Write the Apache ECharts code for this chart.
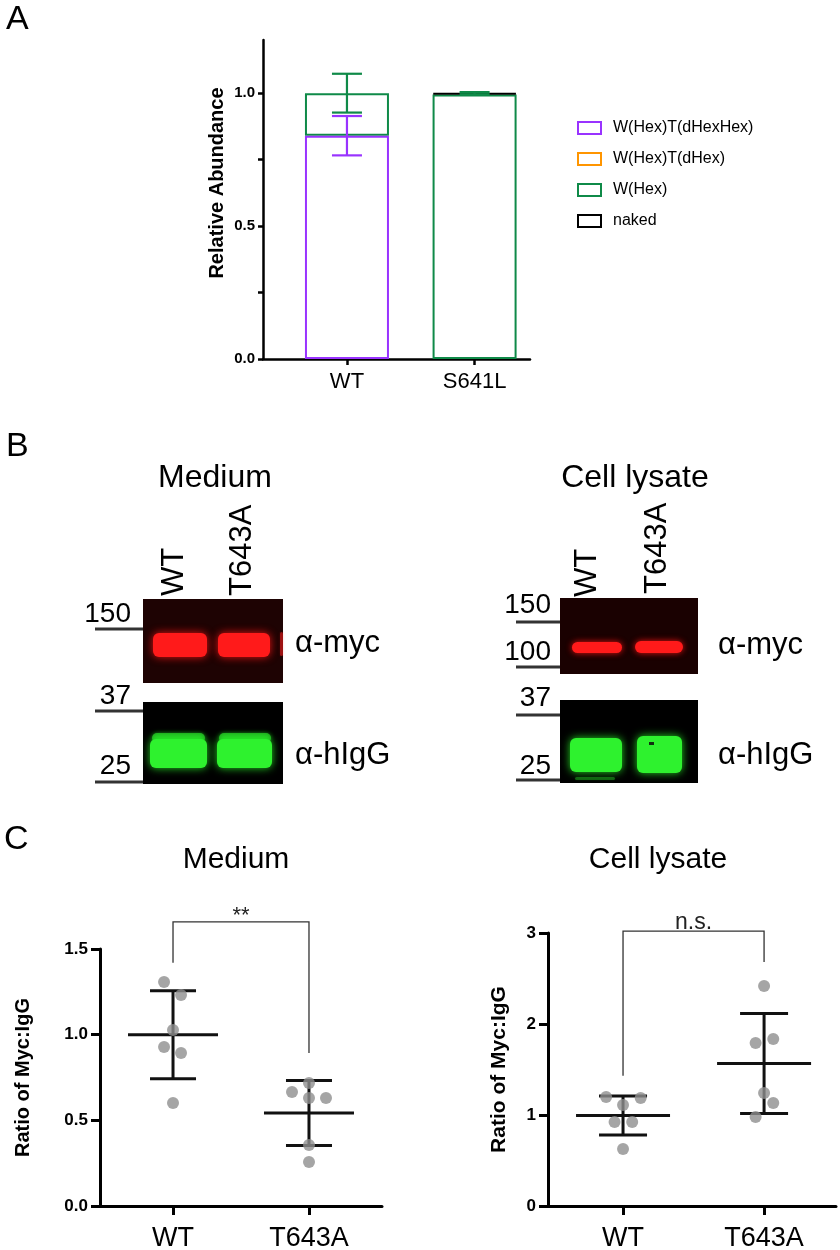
<!DOCTYPE html>
<html>
<head>
<meta charset="utf-8">
<title>Glycoform abundance and myc:IgG ratio</title>
<script src="https://cdn.jsdelivr.net/npm/echarts@6.0.0/dist/echarts.min.js"></script>
<style>
  html, body { margin: 0; padding: 0; background: #fff; }
  #fig { width: 840px; height: 1250px; }
</style>
</head>
<body>
<div id="fig"></div>
<script>
const FONT = "'Liberation Sans', Arial, Helvetica, sans-serif";

// panel A - relative abundance per glycoform (stacked)
const abCats = ['WT', 'S641L'];
const abX = [1, 2.52];
const abNames = ['W(Hex)T(dHexHex)', 'W(Hex)T(dHex)', 'W(Hex)', 'naked'];
const abColors = ['#9933ff', '#ff9500', '#0f8a48', '#000000'];
const abHexHex = [0.84, null];
const abHexDHex = [null, null];
const abHex = [0.16, 0.995];
const abNaked = [null, 0.005];
// [x, segment top, sd]
const abErrHexHex = [[1, 0.84, 0.074]];
const abErrHex = [[1, 1.0, 0.073], [2.52, 1.0, 0.004]];
const abTicks = [0, 0.25, 0.5, 0.75, 1.0];
const abLabels = [0, 0.5, 1.0];

// panel C - ratio of myc:IgG, points are [jittered x, value]
const cCats = ['WT', 'T643A'];
const medWT = [[0.934, 1.307], [1.059, 1.232], [1, 1.027], [0.934, 0.928], [1.059, 0.893], [1, 0.601]];
const medT643A = [[2, 0.718], [1.875, 0.665], [2, 0.63], [2.125, 0.63], [2, 0.356], [2, 0.257]];
const medStats = [[1, 1.0, 0.257], [2, 0.543, 0.19]];   // [x, mean, sd]
const medBracket = [1, 2, 1.42, 1.658, 0.893];          // x1, x2, left foot, top, right foot
const medSig = '**';

const lysWT = [[0.88, 1.198], [1.125, 1.187], [1, 1.11], [0.94, 0.923], [1.065, 0.923], [1, 0.626]];
const lysT643A = [[2, 2.418], [1.94, 1.79], [2.065, 1.835], [2, 1.242], [2.065, 1.132], [1.94, 0.978]];
const lysStats = [[1, 0.995, 0.215], [2, 1.566, 0.55]];
const lysBracket = [1, 2, 1.43, 3.02, 2.68];
const lysSig = 'n.s.';

function nearestLabel(xs, names, v) {
  let best = 0;
  xs.forEach((x, i) => { if (Math.abs(x - v) < Math.abs(xs[best] - v)) best = i; });
  return names[best];
}

const myChart = echarts.init(document.getElementById('fig'));

function errSeries(data, color) {
  return {
    type: 'custom', xAxisIndex: 0, yAxisIndex: 0, data: data, z: 5, silent: true,
    encode: { x: 0, y: 1 },
    renderItem: function (params, api) {
      const x = api.value(0), c = api.value(1), e = api.value(2);
      const t = api.coord([x, c + e]), b = api.coord([x, c - e]);
      const hw = 15, st = { stroke: color, lineWidth: 2.2 };
      return { type: 'group', children: [
        { type: 'line', shape: { x1: t[0], y1: t[1], x2: b[0], y2: b[1] }, style: st },
        { type: 'line', shape: { x1: t[0] - hw, y1: t[1], x2: t[0] + hw, y2: t[1] }, style: st },
        { type: 'line', shape: { x1: b[0] - hw, y1: b[1], x2: b[0] + hw, y2: b[1] }, style: st }
      ] };
    }
  };
}

function statSeries(idx, data, meanHw, capHw) {
  return {
    type: 'custom', xAxisIndex: idx, yAxisIndex: idx, data: data, z: 4, silent: true,
    encode: { x: 0, y: 1 },
    renderItem: function (params, api) {
      const x = api.value(0), m = api.value(1), s = api.value(2);
      const pm = api.coord([x, m]), t = api.coord([x, m + s]), b = api.coord([x, m - s]);
      const st = { stroke: '#111', lineWidth: 3 };
      return { type: 'group', children: [
        { type: 'line', shape: { x1: pm[0] - meanHw, y1: pm[1], x2: pm[0] + meanHw, y2: pm[1] }, style: st },
        { type: 'line', shape: { x1: t[0], y1: t[1], x2: b[0], y2: b[1] }, style: st },
        { type: 'line', shape: { x1: t[0] - capHw, y1: t[1], x2: t[0] + capHw, y2: t[1] }, style: st },
        { type: 'line', shape: { x1: b[0] - capHw, y1: b[1], x2: b[0] + capHw, y2: b[1] }, style: st }
      ] };
    }
  };
}

function bracketSeries(idx, bracket, label, fontSize, gap) {
  return {
    type: 'custom', xAxisIndex: idx, yAxisIndex: idx, data: [bracket], z: 5, silent: true, clip: false,
    encode: { x: [0, 1], y: [2, 3, 4] },
    renderItem: function (params, api) {
      const l0 = api.coord([api.value(0), api.value(2)]);
      const lt = api.coord([api.value(0), api.value(3)]);
      const rt = api.coord([api.value(1), api.value(3)]);
      const r0 = api.coord([api.value(1), api.value(4)]);
      return { type: 'group', children: [
        { type: 'polyline', shape: { points: [l0, lt, rt, r0] }, style: { stroke: '#333', lineWidth: 1.3, fill: null } },
        { type: 'text', x: (lt[0] + rt[0]) / 2, y: lt[1] - gap,
          style: { text: label, fill: '#222', fontSize: fontSize, fontFamily: FONT,
                   align: 'center', textAlign: 'center', verticalAlign: 'middle', textVerticalAlign: 'middle' } }
      ] };
    }
  };
}

function pointSeries(idx, data) {
  return {
    type: 'scatter', xAxisIndex: idx, yAxisIndex: idx, data: data, z: 6,
    symbol: 'circle', symbolSize: 12, itemStyle: { color: '#8e8e8e' }, silent: true
  };
}

// ----- graphic helpers for the blots (panel B) and headings -----
function txt(x, y, text, size, opt) {
  opt = opt || {};
  return {
    type: 'text', x: x, y: y, rotation: opt.rot || 0, z: 10,
    style: { text: text, fill: '#000', fontSize: size, fontFamily: FONT, fontWeight: opt.bold ? 'bold' : 'normal',
             align: opt.align || 'center', textAlign: opt.align || 'center',
             verticalAlign: 'middle', textVerticalAlign: 'middle' }
  };
}
function box(x, y, w, h, fill) {
  return { type: 'rect', z: 1, shape: { x: x, y: y, width: w, height: h }, style: { fill: fill } };
}
function band(x, y, w, h, fill, glow, blur) {
  return { type: 'rect', z: 2, shape: { x: x, y: y, width: w, height: h, r: Math.min(6, h / 2) },
           style: { fill: fill, shadowBlur: blur, shadowColor: glow } };
}
function marker(x1, x2, y, label, lx, ly) {
  return [
    { type: 'line', z: 2, shape: { x1: x1, y1: y, x2: x2, y2: y }, style: { stroke: '#333', lineWidth: 3 } },
    txt(lx, ly, label, 28, { align: 'right' })
  ];
}
const RED = '#ff1a1a', RED_GLOW = 'rgba(255,20,20,0.9)';
const GREEN = '#2ef22e', GREEN_GLOW = 'rgba(40,255,40,0.85)';

const graphics = [
  txt(6, 20, 'A', 34, { align: 'left' }),
  txt(6, 447, 'B', 34, { align: 'left' }),
  txt(4, 840, 'C', 34, { align: 'left' }),

  // B - medium
  txt(215, 478, 'Medium', 32),
  txt(174, 596, 'WT', 31, { rot: Math.PI / 2, align: 'left' }),
  txt(242, 596, 'T643A', 31, { rot: Math.PI / 2, align: 'left' }),
  box(143, 599, 140, 84, '#1e0303'),
  band(153, 633, 54, 24, RED, RED_GLOW, 8),
  band(218, 633, 52, 24, RED, RED_GLOW, 8),
  band(280, 632, 3, 24, 'rgba(255,30,30,0.5)', 'rgba(255,30,30,0.4)', 3),
  box(143, 702, 140, 82, '#000'),
  band(152, 733, 53, 10, 'rgba(46,242,46,0.6)', GREEN_GLOW, 4),
  band(150, 739, 57, 29, GREEN, GREEN_GLOW, 8),
  band(219, 733, 52, 10, 'rgba(46,242,46,0.6)', GREEN_GLOW, 4),
  band(217, 739, 55, 29, GREEN, GREEN_GLOW, 8),
  ...marker(95, 143, 629, '150', 131, 614),
  ...marker(95, 143, 711, '37', 131, 696),
  ...marker(95, 143, 782, '25', 131, 766),
  txt(295, 643, '\u03b1-myc', 31, { align: 'left' }),
  txt(295, 755, '\u03b1-hIgG', 31, { align: 'left' }),

  // B - cell lysate
  txt(635, 478, 'Cell lysate', 32),
  txt(587, 597, 'WT', 31, { rot: Math.PI / 2, align: 'left' }),
  txt(657, 594, 'T643A', 31, { rot: Math.PI / 2, align: 'left' }),
  box(560, 598, 138, 76, '#1a0101'),
  band(572, 642, 50, 11, RED, RED_GLOW, 6),
  band(635, 641, 48, 12, RED, RED_GLOW, 6),
  box(560, 700, 138, 83, '#000'),
  band(570, 738, 52, 34, GREEN, GREEN_GLOW, 8),
  band(637, 736, 45, 37, GREEN, GREEN_GLOW, 8),
  band(575, 777, 40, 3, 'rgba(46,242,46,0.35)', 'rgba(40,255,40,0.3)', 3),
  { type: 'rect', z: 3, shape: { x: 649, y: 742, width: 5, height: 3 }, style: { fill: '#103010' } },
  ...marker(516, 560, 622, '150', 551, 605),
  ...marker(516, 560, 667, '100', 551, 652),
  ...marker(516, 560, 715, '37', 551, 698),
  ...marker(516, 560, 780, '25', 551, 766),
  txt(718, 645, '\u03b1-myc', 31, { align: 'left' }),
  txt(718, 755, '\u03b1-hIgG', 31, { align: 'left' }),

  // C headings
  txt(236, 860, 'Medium', 30),
  txt(658, 860, 'Cell lysate', 30)
];

function cXAxis(idx, min, max) {
  return {
    gridIndex: idx, type: 'value', min: min, max: max,
    axisLine: { show: true, lineStyle: { color: '#000', width: 3 } },
    axisTick: { show: true, length: 9, customValues: [1, 2], lineStyle: { color: '#000', width: 3 } },
    axisLabel: { customValues: [1, 2], formatter: v => nearestLabel([1, 2], cCats, v),
                 fontSize: 27, color: '#000', fontFamily: FONT, margin: 19 },
    splitLine: { show: false }
  };
}
function cYAxis(idx, max, interval, digits, nameGap, nameSize) {
  return {
    gridIndex: idx, type: 'value', min: 0, max: max, interval: interval,
    axisLine: { show: true, lineStyle: { color: '#000', width: 3 } },
    axisTick: { show: true, length: 9, lineStyle: { color: '#000', width: 3 } },
    axisLabel: { formatter: v => v.toFixed(digits), fontSize: 17, fontWeight: 'bold', color: '#000',
                 fontFamily: FONT, margin: 12 },
    splitLine: { show: false },
    name: 'Ratio of Myc:IgG', nameLocation: 'middle', nameGap: nameGap,
    nameTextStyle: { fontSize: nameSize, fontWeight: 'bold', color: '#000', fontFamily: FONT }
  };
}

const abSeriesData = [abHexHex, abHexDHex, abHex, abNaked];

let option = {
  animation: false,
  backgroundColor: '#fff',
  textStyle: { fontFamily: FONT },
  graphic: graphics,
  legend: {
    orient: 'vertical', left: 577, top: 119, padding: 0, itemWidth: 23, itemHeight: 12, itemGap: 13,
    icon: 'rect', selectedMode: false,
    textStyle: { fontSize: 16, color: '#000', fontFamily: FONT, lineHeight: 18, padding: [0, 0, 0, 7] },
    data: abNames.map((n, i) => ({ name: n, itemStyle: { color: '#fff', borderColor: abColors[i], borderWidth: 2 } }))
  },
  grid: [
    { left: 263, top: 40, width: 267, height: 319, outerBoundsMode: 'none' },
    { left: 100, top: 949, width: 282, height: 257, outerBoundsMode: 'none' },
    { left: 548, top: 933, width: 288, height: 273, outerBoundsMode: 'none' }
  ],
  xAxis: [
    {
      gridIndex: 0, type: 'value', min: 0, max: 3.18,
      axisLine: { show: true, lineStyle: { color: '#000', width: 2.5 } },
      axisTick: { show: true, length: 6, customValues: abX, lineStyle: { color: '#000', width: 2.5 } },
      axisLabel: { customValues: abX, formatter: v => nearestLabel(abX, abCats, v),
                   fontSize: 22, color: '#000', fontFamily: FONT, margin: 12 },
      splitLine: { show: false }
    },
    cXAxis(1, 0.463, 2.537),
    cXAxis(2, 0.468, 2.51)
  ],
  yAxis: [
    {
      gridIndex: 0, type: 'value', min: 0, max: 1.2,
      axisLine: { show: true, lineStyle: { color: '#000', width: 2.5 } },
      axisTick: { show: true, length: 5, customValues: abTicks, lineStyle: { color: '#000', width: 2.5 } },
      axisLabel: { customValues: abLabels, formatter: v => v.toFixed(1), fontSize: 15, fontWeight: 'bold',
                   color: '#000', fontFamily: FONT, margin: 8 },
      splitLine: { show: false },
      name: 'Relative Abundance', nameLocation: 'middle', nameGap: 36,
      nameTextStyle: { fontSize: 20, fontWeight: 'bold', color: '#000', fontFamily: FONT, padding: [0, 0, 0, 33] }
    },
    cYAxis(1, 1.5, 0.5, 1, 67, 20),
    cYAxis(2, 3, 1, 0, 38, 21)
  ],
  series: [
    // abundance first, position second: the stack then sums the abundance, by index
    ...abNames.map((n, i) => ({
      type: 'bar', name: n, xAxisIndex: 0, yAxisIndex: 0, stack: 'glyco', barWidth: 84,
      dimensions: ['abundance', 'pos'], encode: { x: 1, y: 0 },
      data: abX.map((x, k) => [abSeriesData[i][k], x]), z: i === 0 ? 3 : 2, silent: true,
      itemStyle: { color: '#fff', borderColor: abColors[i], borderWidth: 2 }
    })),
    errSeries(abErrHex, abColors[2]),
    errSeries(abErrHexHex, abColors[0]),

    statSeries(1, medStats, 45, 23),
    bracketSeries(1, medBracket, medSig, 22, 5.5),
    pointSeries(1, medWT),
    pointSeries(1, medT643A),

    statSeries(2, lysStats, 47, 24),
    bracketSeries(2, lysBracket, lysSig, 23, 9),
    pointSeries(2, lysWT),
    pointSeries(2, lysT643A)
  ]
};

myChart.setOption(option);
window.addEventListener('resize', function () {
  myChart.resize();
});
</script>
</body>
</html>
